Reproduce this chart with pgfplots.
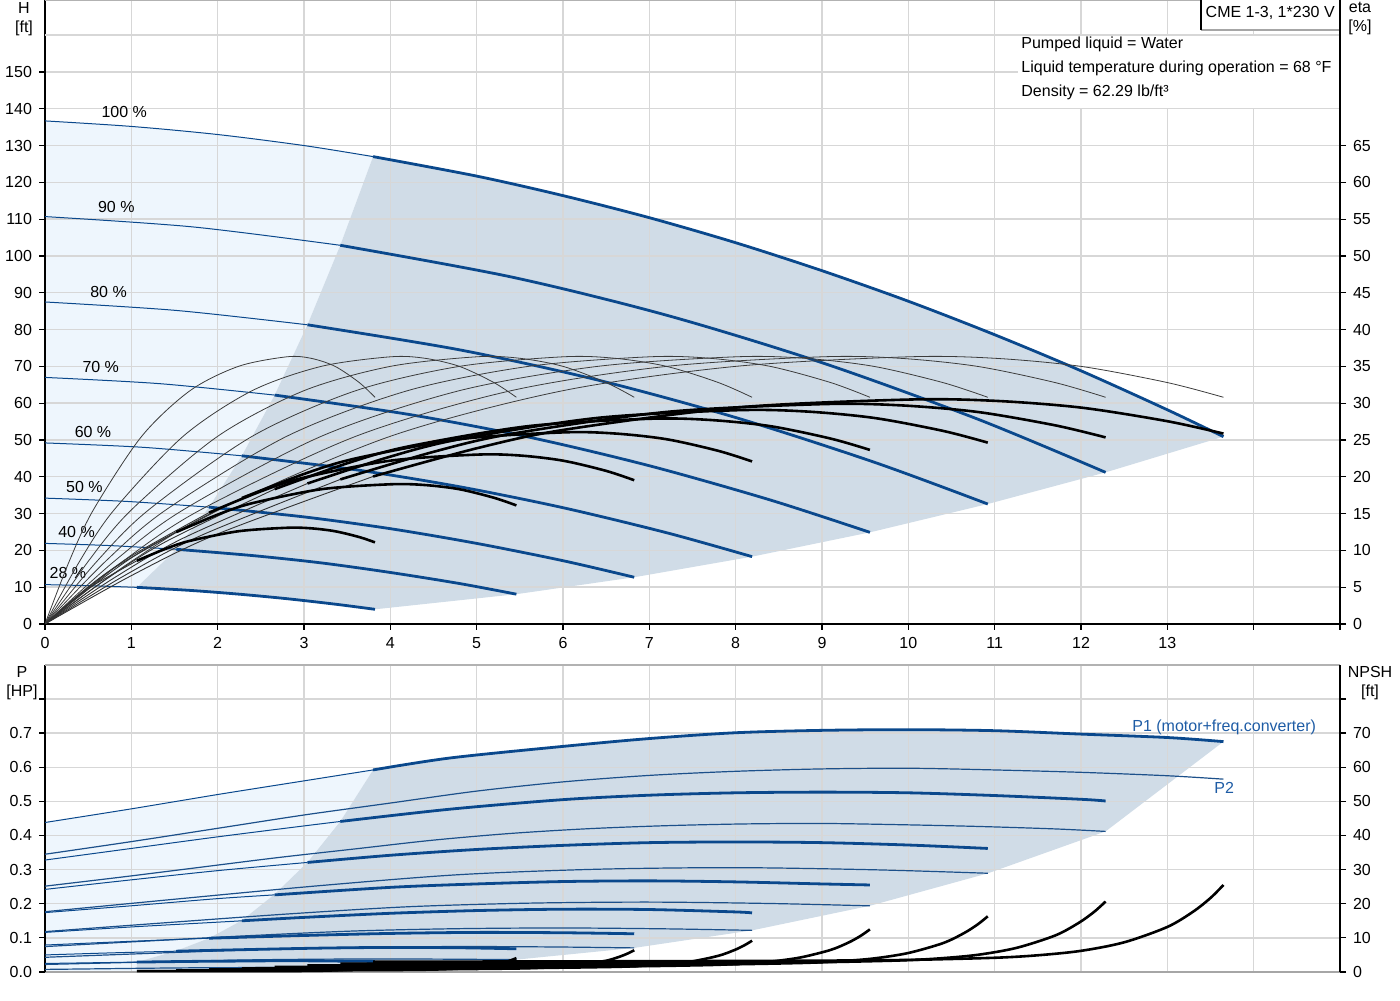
\documentclass[border=0pt]{standalone}
\usepackage{fontspec}
\setmainfont{Liberation Sans}
\usepackage{pgfplots}
\pgfplotsset{compat=1.18}

\definecolor{curveblue}{RGB}{10,72,140}
\definecolor{labelblue}{RGB}{30,92,165}
\definecolor{lightfill}{RGB}{238,246,253}
\definecolor{darkfill}{RGB}{208,220,231}
\definecolor{gridgray}{RGB}{215,215,215}
\definecolor{pumpgray}{RGB}{60,60,60}

\pgfplotsset{
  frame/.style={scale only axis, width=647.5pt, xmin=0, xmax=15, anchor=south west,
    /pgf/number format/assume math mode=true,
    ticklabel style={font=\fontsize{8}{9.6}\selectfont},
    tick align=outside, major tick length=3pt,
    tick style={black, line width=0.6pt},
    axis line style={black, line width=0.7pt, -},
    every outer x axis line/.append style={-},
    every outer y axis line/.append style={-}},
  toppos/.style={frame, at={(22.5pt,188pt)}, height=311.9pt},
  botpos/.style={frame, at={(22.5pt,14pt)}, height=153.6pt},
  thinb/.style={curveblue, line width=0.5pt, smooth},
  thickb/.style={curveblue, line width=1.4pt, smooth},
  ptwo/.style={curveblue!85!gray, line width=0.6pt, smooth},
  etap/.style={pumpgray, line width=0.4pt, smooth},
  etathin/.style={black!80, line width=0.45pt, smooth},
  etathick/.style={black, line width=1.3pt, smooth},
  npsh/.style={black, line width=1.3pt, smooth},
}

\begin{document}
\begin{tikzpicture}[font=\fontsize{8}{9.6}\selectfont]
\useasboundingbox (0,0) rectangle (700pt,500pt);

% ---------- top: operating areas ----------
\begin{axis}[toppos, ymin=0, ymax=169.5, hide axis]
\addplot[draw=none, fill=lightfill] coordinates {
  (0,136.7)(1,135.2)(2,133.0)(3,130.0)(3.8,127.0)(3.42,102.9)(3.04,81.3)(2.66,62.2)
  (2.28,45.7)(1.9,31.75)(1.52,20.3)(1.064,9.96)(0.532,10.4)(0,10.7)};
\addplot[draw=none, fill=darkfill] coordinates {
  (3.8,127.0)(5,121.7)(6,116.4)(7,110.4)(8,103.6)(9,96.0)(10,87.7)(11,78.6)(12,68.8)
  (13,58.2)(13.65,50.9)(12.285,41.2)(10.92,32.6)(9.555,24.9)(8.19,18.3)(6.825,12.7)
  (5.46,8.1)(3.822,3.99)(3.36,5.39)(2.8,6.88)(2.24,8.12)(1.68,9.13)(1.064,9.96)
  (1.52,20.3)(1.9,31.75)(2.28,45.7)(2.66,62.2)(3.04,81.3)(3.42,102.9)};
\end{axis}

% ---------- top: QH curves ----------
\begin{axis}[toppos, ymin=0, ymax=169.5,
  axis y line*=left, axis x line*=bottom,
  xtick={0,...,15}, xticklabels={0,1,2,3,4,5,6,7,8,9,10,11,12,13,{},{}},
  ytick={0,10,...,150}, extra y ticks={160}, extra y tick labels={},
  extra y tick style={major tick length=0pt},
  xmajorgrids, ymajorgrids, grid style={gridgray, line width=0.7pt}]
\draw[gray!60, line width=0.7pt] (rel axis cs:0,1) -- (rel axis cs:1,1);
% 100 %
\addplot[thinb] coordinates {(0,136.7)(1,135.2)(2,133.0)(3,130.0)(3.8,127.0)};
\addplot[thickb] coordinates {(3.8,127.0)(5,121.7)(6,116.4)(7,110.4)(8,103.6)(9,96.0)(10,87.7)(11,78.6)(12,68.8)(13,58.2)(13.65,50.9)};
% 90 %
\addplot[thinb] coordinates {(0,110.7)(1.71,107.9)(3.42,102.9)};
\addplot[thickb] coordinates {(3.42,102.9)(5.4,94.3)(7.2,83.9)(9.0,71.0)(10.8,55.7)(12.285,41.2)};
% 80 %
\addplot[thinb] coordinates {(0,87.5)(1.52,85.2)(3.04,81.3)};
\addplot[thickb] coordinates {(3.04,81.3)(4.8,74.5)(6.4,66.3)(8.0,56.1)(9.6,44.0)(10.92,32.6)};
% 70 %
\addplot[thinb] coordinates {(0,67.0)(1.33,65.3)(2.66,62.2)};
\addplot[thickb] coordinates {(2.66,62.2)(4.2,57.0)(5.6,50.8)(7.0,43.0)(8.4,33.7)(9.555,24.9)};
% 60 %
\addplot[thinb] coordinates {(0,49.2)(1.14,48.0)(2.28,45.7)};
\addplot[thickb] coordinates {(2.28,45.7)(3.6,41.9)(4.8,37.3)(6.0,31.6)(7.2,24.8)(8.19,18.3)};
% 50 %
\addplot[thinb] coordinates {(0,34.2)(0.95,33.3)(1.9,31.75)};
\addplot[thickb] coordinates {(1.9,31.75)(3.0,29.1)(4.0,25.9)(5.0,21.9)(6.0,17.2)(6.825,12.7)};
% 40 %
\addplot[thinb] coordinates {(0,21.9)(0.76,21.3)(1.52,20.3)};
\addplot[thickb] coordinates {(1.52,20.3)(2.4,18.6)(3.2,16.6)(4.0,14.0)(4.8,11.0)(5.46,8.1)};
% 28 %
\addplot[thinb] coordinates {(0,10.7)(0.532,10.4)(1.064,9.96)};
\addplot[thickb] coordinates {(1.064,9.96)(1.68,9.13)(2.24,8.12)(2.8,6.88)(3.36,5.39)(3.822,3.99)};

\node[anchor=west, inner sep=0] at (axis cs:0.65,139.1) {100 \%};
\node[anchor=west, inner sep=0] at (axis cs:0.61,113.3) {90 \%};
\node[anchor=west, inner sep=0] at (axis cs:0.52,90.2) {80 \%};
\node[anchor=west, inner sep=0] at (axis cs:0.43,69.8) {70 \%};
\node[anchor=west, inner sep=0] at (axis cs:0.34,52.2) {60 \%};
\node[anchor=west, inner sep=0] at (axis cs:0.24,37.2) {50 \%};
\node[anchor=west, inner sep=0] at (axis cs:0.15,25.0) {40 \%};
\node[anchor=west, inner sep=0] at (axis cs:0.05,13.9) {28 \%};
\node[anchor=north west, inner sep=0] at ([yshift=-5pt]axis cs:13.97,0) {Q [US gpm]};
\end{axis}

% ---------- top: efficiency ----------
\begin{axis}[toppos, ymin=0, ymax=84.75,
  axis y line*=right, axis x line=none,
  ytick={0,5,...,65}]
% pump efficiency
\addplot[etap] coordinates {(0,0)(1,8.5)(2,15.5)(4,25.5)(6,31.7)(8,35.0)(10,36.3)(11,36.1)(12,35.0)(13,32.8)(13.65,30.8)};
\addplot[etap] coordinates {(0,0)(0.9,8.5)(1.8,15.5)(3.6,25.5)(5.4,31.7)(7.2,35.0)(9,36.3)(9.9,36.1)(10.8,35.0)(11.7,32.8)(12.285,30.8)};
\addplot[etap] coordinates {(0,0)(0.8,8.5)(1.6,15.5)(3.2,25.5)(4.8,31.7)(6.4,35.0)(8,36.3)(8.8,36.1)(9.6,35.0)(10.4,32.8)(10.92,30.8)};
\addplot[etap] coordinates {(0,0)(0.7,8.5)(1.4,15.5)(2.8,25.5)(4.2,31.7)(5.6,35.0)(7,36.3)(7.7,36.1)(8.4,35.0)(9.1,32.8)(9.555,30.8)};
\addplot[etap] coordinates {(0,0)(0.6,8.5)(1.2,15.5)(2.4,25.5)(3.6,31.7)(4.8,35.0)(6,36.3)(6.6,36.1)(7.2,35.0)(7.8,32.8)(8.19,30.8)};
\addplot[etap] coordinates {(0,0)(0.5,8.5)(1,15.5)(2,25.5)(3,31.7)(4,35.0)(5,36.3)(5.5,36.1)(6,35.0)(6.5,32.8)(6.825,30.8)};
\addplot[etap] coordinates {(0,0)(0.4,8.5)(0.8,15.5)(1.6,25.5)(2.4,31.7)(3.2,35.0)(4,36.3)(4.4,36.1)(4.8,35.0)(5.2,32.8)(5.46,30.8)};
\addplot[etap] coordinates {(0,0)(0.28,8.5)(0.56,15.5)(1.12,25.5)(1.68,31.7)(2.24,35.0)(2.8,36.3)(3.08,36.1)(3.36,35.0)(3.64,32.8)(3.822,30.8)};
% total efficiency, thin outside the working area
\addplot[etathin] coordinates {(0,0)(1,6.57)(2,12.24)(3.8,20.04)};
\addplot[etathin] coordinates {(0,0)(0.9,6.44)(1.8,11.99)(3.42,19.64)};
\addplot[etathin] coordinates {(0,0)(0.8,6.26)(1.6,11.66)(3.04,19.09)};
\addplot[etathin] coordinates {(0,0)(0.7,6.01)(1.4,11.19)(2.66,18.32)};
\addplot[etathin] coordinates {(0,0)(0.6,5.61)(1.2,10.45)(2.28,17.11)};
\addplot[etathin] coordinates {(0,0)(0.5,4.96)(1,9.24)(1.9,15.13)};
\addplot[etathin] coordinates {(0,0)(0.4,4.09)(0.8,7.62)(1.52,12.48)};
\addplot[etathin] coordinates {(0,0)(0.28,2.82)(0.56,5.25)(1.064,8.59)};
% total efficiency, thick inside
\addplot[etathick] coordinates {(3.8,20.04)(5,23.87)(6,26.36)(8,29.40)(10,30.49)(11,30.32)(12,29.40)(13,27.55)(13.65,25.87)};
\addplot[etathick] coordinates {(3.42,19.64)(4.5,23.39)(5.4,25.83)(7.2,28.81)(9,29.87)(9.9,29.71)(10.8,28.81)(11.7,26.99)(12.285,25.35)};
\addplot[etathick] coordinates {(3.04,19.09)(4,22.74)(4.8,25.10)(6.4,28.00)(8,29.04)(8.8,28.88)(9.6,28.00)(10.4,26.24)(10.92,24.64)};
\addplot[etathick] coordinates {(2.66,18.32)(3.5,21.83)(4.2,24.10)(5.6,26.88)(7,27.88)(7.7,27.72)(8.4,26.88)(9.1,25.19)(9.555,23.65)};
\addplot[etathick] coordinates {(2.28,17.11)(3,20.38)(3.6,22.50)(4.8,25.10)(6,26.03)(6.6,25.88)(7.2,25.10)(7.8,23.52)(8.19,22.08)};
\addplot[etathick] coordinates {(1.9,15.13)(2.5,18.02)(3,19.89)(4,22.19)(5,23.01)(5.5,22.89)(6,22.19)(6.5,20.80)(6.825,19.53)};
\addplot[etathick] coordinates {(1.52,12.48)(2,14.86)(2.4,16.41)(3.2,18.31)(4,18.98)(4.4,18.88)(4.8,18.31)(5.2,17.15)(5.46,16.11)};
\addplot[etathick] coordinates {(1.064,8.59)(1.4,10.23)(1.68,11.30)(2.24,12.60)(2.8,13.07)(3.08,13.0)(3.36,12.60)(3.64,11.81)(3.822,11.09)};
\end{axis}

% ---------- bottom: operating areas ----------
\begin{axis}[botpos, ymin=0, ymax=0.9, hide axis]
\addplot[draw=none, fill=lightfill] coordinates {
  (0,0.438)(1,0.477)(2,0.522)(3,0.562)(3.8,0.592)(3.42,0.441)(3.04,0.321)(2.66,0.228)
  (2.28,0.151)(1.9,0.099)(1.52,0.062)(1.064,0.029)(1.064,0)(0,0)};
\addplot[draw=none, fill=darkfill] coordinates {
  (3.8,0.592)(4.69,0.627)(6,0.661)(7,0.684)(8,0.701)(9,0.708)(10,0.710)(11,0.707)
  (12,0.697)(13,0.687)(13.65,0.675)(12.285,0.412)(10.92,0.289)(9.555,0.194)(8.19,0.122)
  (6.825,0.0706)(5.46,0.0362)(3.822,0.0124)(1.064,0.005)(1.064,0.029)(1.52,0.062)
  (1.9,0.099)(2.28,0.151)(2.66,0.228)(3.04,0.321)(3.42,0.441)};
\end{axis}

% ---------- bottom: power ----------
\begin{axis}[botpos, ymin=0, ymax=0.9,
  axis y line*=left, axis x line*=bottom,
  x axis line style={gray!70},
  xtick={0,...,15}, xticklabels={}, xmajorticks=false,
  ytick={0,0.1,0.2,0.3,0.4,0.5,0.6,0.7,0.8},
  yticklabels={0.0,0.1,0.2,0.3,0.4,0.5,0.6,0.7,{}},
  xmajorgrids, ymajorgrids, grid style={gridgray, line width=0.7pt}]
\draw[gray!60, line width=0.7pt] (rel axis cs:0,1) -- (rel axis cs:1,1);
% P2
\addplot[ptwo] coordinates {(0,0.345)(1,0.382)(2,0.421)(3,0.460)(4,0.495)(5,0.530)(6,0.557)(7,0.576)(8,0.588)(9,0.595)(10,0.597)(11,0.592)(12,0.585)(13,0.575)(13.65,0.565)};
\addplot[ptwo] coordinates {(0,0.2515)(0.9,0.2785)(1.8,0.3069)(2.7,0.3353)(3.6,0.3609)(4.5,0.3864)(5.4,0.4061)(6.3,0.4199)(7.2,0.4287)(8.1,0.4338)(9,0.4352)(9.9,0.4316)(10.8,0.4265)(11.7,0.4192)(12.285,0.4119)};
\addplot[ptwo] coordinates {(0,0.1766)(1.6,0.2156)(3.2,0.2534)(4.8,0.2852)(6.4,0.3011)(8,0.3057)(9.6,0.2995)(10.92,0.2893)};
\addplot[ptwo] coordinates {(0,0.1183)(1.4,0.1444)(2.8,0.1698)(4.2,0.1911)(5.6,0.2017)(7,0.2048)(8.4,0.2007)(9.555,0.1938)};
\addplot[ptwo] coordinates {(0,0.0745)(1.2,0.0909)(2.4,0.1069)(3.6,0.1203)(4.8,0.1270)(6,0.1290)(7.2,0.1264)(8.19,0.1220)};
\addplot[ptwo] coordinates {(0,0.0431)(1,0.0526)(2,0.0619)(3,0.0696)(4,0.0735)(5,0.0746)(6,0.0731)(6.825,0.0706)};
\addplot[ptwo] coordinates {(0,0.0221)(0.8,0.0269)(1.6,0.0317)(2.4,0.0356)(3.2,0.0376)(4,0.0382)(4.8,0.0374)(5.46,0.0362)};
\addplot[ptwo] coordinates {(0,0.0076)(0.56,0.0092)(1.12,0.0109)(1.68,0.0122)(2.24,0.0129)(2.8,0.0131)(3.36,0.0128)(3.822,0.0124)};
% P1
\addplot[thinb] coordinates {(0,0.438)(1,0.478)(2,0.520)(3,0.560)(3.8,0.592)};
\addplot[thickb] coordinates {(3.8,0.592)(4.69,0.627)(6,0.661)(7,0.684)(8,0.701)(9,0.708)(10,0.710)(11,0.707)(12,0.697)(13,0.687)(13.65,0.675)};
\addplot[thinb] coordinates {(0,0.328)(1,0.362)(2,0.396)(3,0.428)(3.42,0.441)};
\addplot[thickb] coordinates {(3.42,0.441)(4.69,0.477)(6,0.505)(7,0.518)(8,0.525)(9,0.527)(10,0.525)(11,0.517)(12,0.506)(12.285,0.501)};
\addplot[thinb] coordinates {(0,0.242)(1,0.270)(2,0.297)(3.04,0.321)};
\addplot[thickb] coordinates {(3.04,0.321)(4,0.342)(5,0.359)(6,0.371)(7,0.379)(8,0.381)(9,0.379)(10,0.372)(10.92,0.362)};
\addplot[thinb] coordinates {(0,0.174)(1,0.194)(2,0.215)(2.66,0.226)};
\addplot[thickb] coordinates {(2.66,0.226)(4,0.248)(5,0.258)(6,0.265)(7,0.267)(8,0.264)(9,0.258)(9.555,0.255)};
\addplot[thinb] coordinates {(0,0.116)(1,0.132)(2,0.146)(2.28,0.150)};
\addplot[thickb] coordinates {(2.28,0.150)(3,0.160)(4,0.172)(5,0.180)(6,0.184)(7,0.183)(8,0.176)(8.19,0.173)};
\addplot[thinb] coordinates {(0,0.079)(1,0.090)(1.9,0.099)};
\addplot[thickb] coordinates {(1.9,0.099)(3,0.107)(4,0.113)(5,0.116)(6,0.115)(6.825,0.112)};
\addplot[thinb] coordinates {(0,0.050)(0.76,0.056)(1.52,0.061)};
\addplot[thickb] coordinates {(1.52,0.061)(2.4,0.066)(3.2,0.070)(4,0.072)(4.8,0.071)(5.46,0.068)};
\addplot[thinb] coordinates {(0,0.025)(0.53,0.027)(1.064,0.029)};
\addplot[thickb] coordinates {(1.064,0.029)(1.68,0.031)(2.24,0.032)(2.8,0.033)(3.36,0.032)(3.822,0.031)};

\node[anchor=west, inner sep=0, text=labelblue] at (axis cs:12.59,0.718) {P1 (motor+freq.converter)};
\node[anchor=west, inner sep=0, text=labelblue] at (axis cs:13.54,0.539) {P2};
\end{axis}

% ---------- bottom: NPSH ----------
\begin{axis}[botpos, ymin=0, ymax=90,
  axis y line*=right, axis x line=none,
  ytick={0,10,20,30,40,50,60,70,80},
  yticklabels={0,10,20,30,40,50,60,70,{}}]
\addplot[npsh] coordinates {(3.8,3.0)(6,3.11)(8,3.23)(9,3.33)(10,3.54)(11,4.17)(11.5,4.9)(12,6.2)(12.5,8.7)(13,13.2)(13.3,17.7)(13.5,21.7)(13.65,25.5)};
\addplot[npsh] coordinates {(3.42,2.43)(5.4,2.52)(7.2,2.62)(8.1,2.70)(9,2.87)(9.9,3.38)(10.35,3.97)(10.8,5.02)(11.25,7.05)(11.7,10.69)(11.97,14.34)(12.15,17.58)(12.285,20.66)};
\addplot[npsh] coordinates {(3.04,1.92)(4.8,1.99)(6.4,2.07)(7.2,2.13)(8,2.27)(8.8,2.67)(9.2,3.14)(9.6,3.97)(10,5.57)(10.4,8.45)(10.64,11.33)(10.8,13.89)(10.92,16.32)};
\addplot[npsh] coordinates {(2.66,1.47)(4.2,1.52)(5.6,1.58)(6.3,1.63)(7,1.73)(7.7,2.04)(8.05,2.40)(8.4,3.04)(8.75,4.26)(9.1,6.47)(9.31,8.67)(9.45,10.63)(9.555,12.5)};
\addplot[npsh] coordinates {(2.28,1.08)(3.6,1.12)(4.8,1.16)(5.4,1.20)(6,1.27)(6.6,1.50)(6.9,1.76)(7.2,2.23)(7.5,3.13)(7.8,4.75)(7.98,6.37)(8.1,7.81)(8.19,9.18)};
\addplot[npsh] coordinates {(1.9,0.75)(3,0.78)(4,0.81)(4.5,0.83)(5,0.89)(5.5,1.04)(5.75,1.23)(6,1.55)(6.25,2.18)(6.5,3.30)(6.65,4.43)(6.75,5.43)(6.825,6.38)};
\addplot[npsh] coordinates {(1.52,0.48)(2.4,0.50)(3.2,0.52)(3.6,0.53)(4,0.57)(4.4,0.67)(4.6,0.78)(4.8,0.99)(5,1.39)(5.2,2.11)(5.32,2.83)(5.4,3.47)(5.46,4.08)};
\addplot[npsh] coordinates {(1.064,0.24)(1.68,0.24)(2.24,0.25)(2.52,0.26)(2.8,0.28)(3.08,0.33)(3.22,0.38)(3.36,0.49)(3.5,0.68)(3.64,1.03)(3.724,1.39)(3.78,1.70)(3.822,2.0)};
\end{axis}

% ---------- axis titles and info boxes ----------
\node[anchor=north, align=center, inner sep=0] at (12pt,499pt) {H\\{[ft]}};
\node[anchor=north, align=center, inner sep=0] at (680pt,499pt) {eta\\{[\%]}};
\node[anchor=north, align=center, inner sep=0] at (11pt,167pt) {P\\{[HP]}};
\node[anchor=north, align=center, inner sep=0] at (685pt,167pt) {NPSH\\{[ft]}};

\fill[white] (600.5pt,485pt) rectangle (669.6pt,500pt);
\draw[gray!70, line width=0.8pt] (600.5pt,485pt) -- (669.6pt,485pt);
\draw[black, line width=0.6pt] (600.5pt,485pt) -- (600.5pt,500pt);
\node[inner sep=0] at (635.1pt,493.5pt) {CME 1-3, 1*230 V};

\fill[white] (509pt,446pt) rectangle (669.6pt,482pt);
\node[anchor=west, inner sep=0] at (510.5pt,478pt) {Pumped liquid = Water};
\node[anchor=west, inner sep=0] at (510.5pt,466pt) {Liquid temperature during operation = 68 °F};
\node[anchor=west, inner sep=0] at (510.5pt,454pt) {Density = 62.29 lb/ft³};
\end{tikzpicture}
\end{document}
